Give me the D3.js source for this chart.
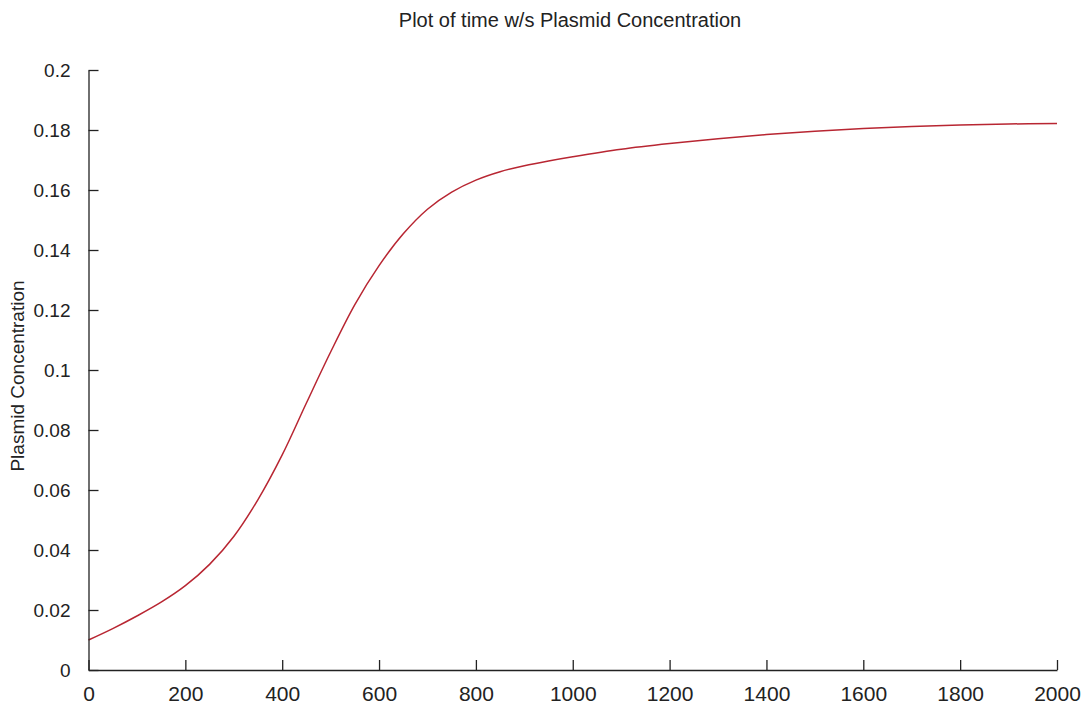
<!DOCTYPE html>
<html>
<head>
<meta charset="utf-8">
<script src="https://cdn.jsdelivr.net/npm/d3@7"></script>
<style>
  html, body { margin: 0; padding: 0; background: #fff; }
  svg { display: block; }
  text { font-family: Arial, "Liberation Sans", sans-serif; fill: #222; }
</style>
</head>
<body>
<svg id="chart" width="1082" height="705"></svg>
<script>
// Data
const titleText = "Plot of time w/s Plasmid Concentration";
const yLabelText = "Plasmid Concentration";
const timeValues = [0, 50, 100, 150, 200, 250, 300, 350, 400, 450, 500, 550, 600, 650, 700, 750, 800, 850, 900, 950, 1000, 1100, 1200, 1300, 1400, 1500, 1600, 1700, 1800, 1900, 2000];
const concValues = [0.0100, 0.0138, 0.0180, 0.0226, 0.0281, 0.0352, 0.0445, 0.0568, 0.0717, 0.0890, 0.1060, 0.1218, 0.1348, 0.1454, 0.1536, 0.1593, 0.1633, 0.1661, 0.1681, 0.1697, 0.1711, 0.1736, 0.1755, 0.1771, 0.1785, 0.1796, 0.1805, 0.1812, 0.1817, 0.1820, 0.1822];
const xTicks = [0, 200, 400, 600, 800, 1000, 1200, 1400, 1600, 1800, 2000];
const yTicks = [0, 0.02, 0.04, 0.06, 0.08, 0.1, 0.12, 0.14, 0.16, 0.18, 0.2];
const yTickLabels = ["0", "0.02", "0.04", "0.06", "0.08", "0.1", "0.12", "0.14", "0.16", "0.18", "0.2"];

(function () {
const svg = d3.select("#chart");
const mLeft = 88.5, mRight = 1057, mTop = 70, mBottom = 670;

const x = d3.scaleLinear().domain([0, 2000]).range([mLeft, mRight]);
const y = d3.scaleLinear().domain([0, 0.2]).range([mBottom, mTop]);

// Line
const data = timeValues.map((t, i) => ({t, v: concValues[i]}));
svg.append("path")
  .datum(data)
  .attr("fill", "none")
  .attr("stroke", "#b82632")
  .attr("stroke-width", 1.5)
  .attr("d", d3.line().x(d => x(d.t)).y(d => y(d.v)).curve(d3.curveCatmullRom.alpha(0.5)));

// X axis
const xAxis = svg.append("g")
  .attr("transform", `translate(0,${mBottom})`)
  .call(d3.axisBottom(x).tickValues(xTicks).tickFormat(d3.format("d")).tickSizeInner(-10).tickSizeOuter(0).tickPadding(16));
xAxis.select(".domain").attr("stroke", "#222").attr("stroke-width", 1.3);
xAxis.selectAll(".tick line").attr("stroke", "#222").attr("stroke-width", 1.3);
xAxis.selectAll("text").attr("font-size", 21).attr("fill", "#222")
  .style("font-family", "Arial, 'Liberation Sans', sans-serif");

// Y axis
const yAxis = svg.append("g")
  .attr("transform", `translate(${mLeft},0)`)
  .call(d3.axisLeft(y).tickValues(yTicks).tickFormat((d, i) => yTickLabels[i]).tickSizeInner(-10).tickSizeOuter(0).tickPadding(18));
yAxis.select(".domain").attr("stroke", "#222").attr("stroke-width", 1.3);
yAxis.selectAll(".tick line").attr("stroke", "#222").attr("stroke-width", 1.3);
yAxis.selectAll("text").attr("font-size", 19).attr("fill", "#222")
  .style("font-family", "Arial, 'Liberation Sans', sans-serif");

// Title
svg.append("text")
  .attr("x", 570).attr("y", 27)
  .attr("text-anchor", "middle")
  .attr("font-size", 20)
  .text(titleText);

// Y label
svg.append("text")
  .attr("transform", "translate(24,376) rotate(-90)")
  .attr("text-anchor", "middle")
  .attr("font-size", 19)
  .text(yLabelText);
})();
</script>
</body>
</html>
